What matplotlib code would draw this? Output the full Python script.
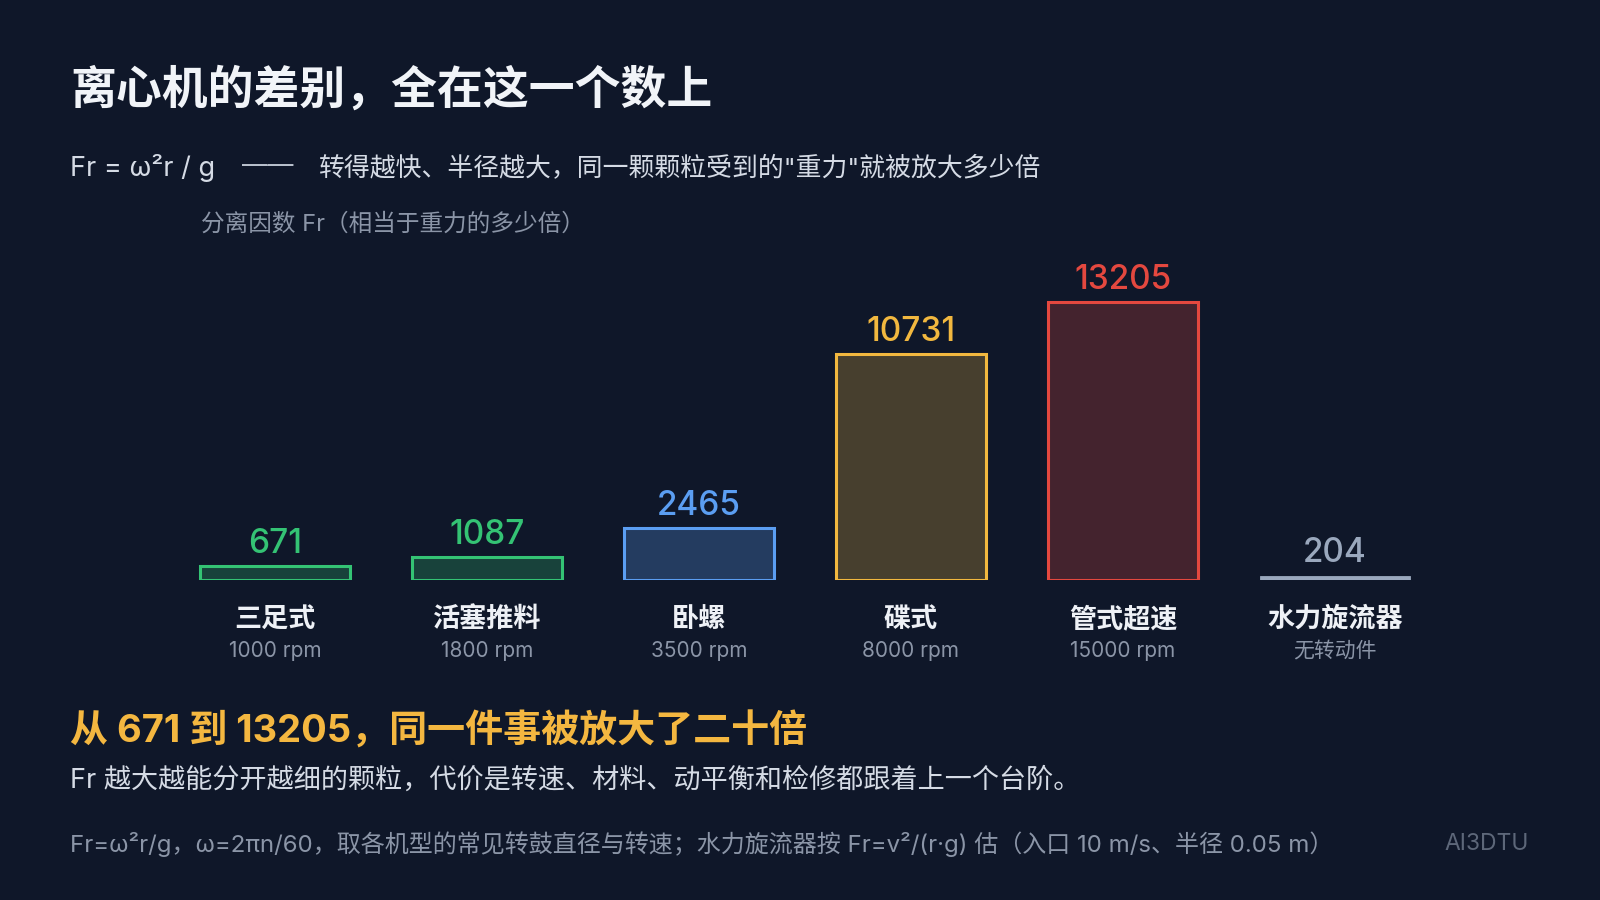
import matplotlib
matplotlib.use("Agg")
import matplotlib.pyplot as plt
from matplotlib.transforms import blended_transform_factory
from matplotlib.colors import to_rgba

plt.rcParams['font.family'] = ['Inter', 'Noto Sans CJK SC', 'DejaVu Sans']

# ---- data ----
categories = ["三足式", "活塞推料", "卧螺", "碟式", "管式超速", "水力旋流器"]
speeds = ["1000 rpm", "1800 rpm", "3500 rpm", "8000 rpm", "15000 rpm", "无转动件"]
fr_values = [671, 1087, 2465, 10731, 13205, 204]
edge_colors = ["#34c374", "#34c374", "#5b9ef2", "#f2b83f", "#e4483f", "#9aa8bd"]
fill_alpha = [0.25, 0.25, 0.28, 0.25, 0.25, 1.0]

title = "离心机的差别，全在这一个数上"
formula = "Fr = ω²r / g"
subtitle = "转得越快、半径越大，同一颗颗粒受到的\"重力\"就被放大多少倍"
axis_label = "分离因数 Fr（相当于重力的多少倍）"
highlight = "从 671 到 13205，同一件事被放大了二十倍"
body = "Fr 越大越能分开越细的颗粒，代价是转速、材料、动平衡和检修都跟着上一个台阶。"
footer = "Fr=ω²r/g，ω=2πn/60，取各机型的常见转鼓直径与转速；水力旋流器按 Fr=v²/(r·g) 估（入口 10 m/s、半径 0.05 m）"
brand = "AI3DTU"

BG = "#0f1729"
W, H = 1600, 900
fig = plt.figure(figsize=(16, 9), dpi=100, facecolor=BG)

# axes geometry in pixels
base_px = 580
ymax = 15000
px_per_unit = 278 / 13205
ax_h = ymax * px_per_unit
ax_left = 169
ax_w = 6 * 212
ax = fig.add_axes([ax_left / W, (H - base_px) / H, ax_w / W, ax_h / H])
ax.set_facecolor("none")
ax.set_xlim(-0.5, 5.5)
ax.set_ylim(0, ymax)
ax.axis("off")

for i, (v, ec, a) in enumerate(zip(fr_values, edge_colors, fill_alpha)):
    lw = 2.2 if a < 1 else 0.6
    ax.bar(i, v, width=0.705, facecolor=to_rgba(ec, a), edgecolor=ec,
           linewidth=lw, zorder=2)
    ax.annotate(str(v), xy=(i, v), xytext=(0, 16), textcoords="offset points",
                ha="center", va="center", fontsize=24, color=ec,
                fontweight="medium")

tr = blended_transform_factory(ax.transData, fig.transFigure)
for i, (c, s) in enumerate(zip(categories, speeds)):
    ax.text(i, 1 - 620 / H, c, transform=tr, ha="center", va="center",
            fontsize=19.5, fontweight="bold", color="#eef1f6")
    ax.text(i, 1 - 651 / H, s, transform=tr, ha="center", va="center",
            fontsize=15, color="#8b95a7")

def ftext(xp, yp, s, **kw):
    fig.text(xp / W, 1 - yp / H, s, **kw)

ftext(70, 90, title, fontsize=33, fontweight="bold", color="#f1f4f8",
      ha="left", va="center")
ftext(70, 168, formula, fontsize=19.5, color="#d5dbe5", ha="left", va="center")
ftext(242, 166, "——", fontsize=18.5, color="#b8c0cc", ha="left", va="center")
ftext(319, 168, subtitle, fontsize=18.6, color="#d5dbe5", ha="left", va="center")
ftext(201, 224, axis_label, fontsize=17, color="#8b95a7", ha="left", va="center")
ftext(70, 731, highlight, fontsize=27.4, fontweight="bold", color="#f4b740",
      ha="left", va="center")
ftext(70, 781, body, fontsize=19.5, color="#d5dbe5", ha="left", va="center")
ftext(70, 844, footer, fontsize=17.3, color="#8b95a7", ha="left", va="center")
ftext(1529, 844, brand, fontsize=16.5, color="#5d6779", ha="right", va="center")

fig.savefig("out.png", dpi=100, facecolor=BG)
